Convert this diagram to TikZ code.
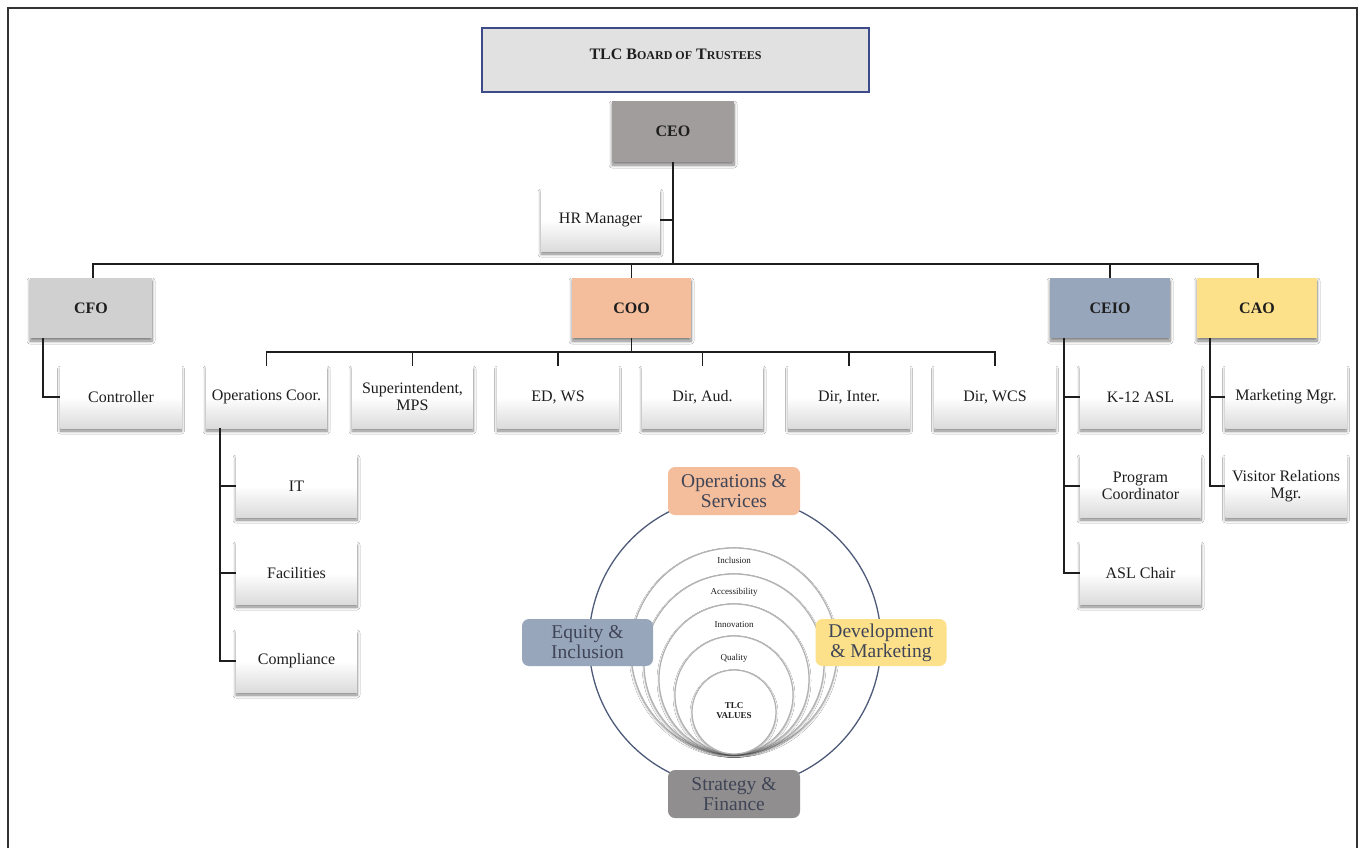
\documentclass[tikz,border=0pt]{standalone}
\usepackage{fontspec}
\setmainfont{Liberation Serif}
\usetikzlibrary{shadows,shadows.blur}
\definecolor{boardfill}{HTML}{E1E1E1}
\definecolor{boardline}{HTML}{3D4B8A}
\definecolor{ceofill}{HTML}{A19D9C}
\definecolor{cfofill}{HTML}{D0D0D0}
\definecolor{coofill}{HTML}{F4BD9B}
\definecolor{ceiofill}{HTML}{98A6BC}
\definecolor{caofill}{HTML}{FDE18A}
\definecolor{stratfill}{HTML}{908E8F}
\definecolor{ringcol}{HTML}{4D5A78}
\definecolor{valtext}{HTML}{3F4556}
\definecolor{ink}{HTML}{1E1E1E}
\begin{document}
\begin{tikzpicture}[x=1pt,y=-1pt,
  shad/.style={blur shadow={shadow xshift=0pt, shadow yshift=-3pt, shadow blur radius=3pt, shadow blur steps=8, shadow opacity=50}},
  box/.style={shad, minimum width=121pt, minimum height=62pt, inner sep=2pt, align=center, text=ink,
    font=\fontsize{16}{17}\selectfont},
  wbox/.style={box, top color=white, bottom color=black!14, middle color=white},
  tbox/.style={box, minimum height=60pt, font=\fontsize{16}{17}\selectfont\bfseries},
  conn/.style={draw=ink, line width=1.6pt},
  vlab/.style={rounded corners=7pt, minimum width=132pt, minimum height=48pt, align=center, text=valtext,
    font=\fontsize{19.5}{20}\selectfont, inner sep=1pt},
  vring/.style={fill=white, draw=black!30, line width=1.2pt,
    blur shadow={shadow xshift=0pt, shadow yshift=-1.5pt, shadow blur radius=2pt, shadow blur steps=5, shadow opacity=35}},
  vtxt/.style={text=ink, font=\fontsize{9}{10}\selectfont}
]
\useasboundingbox (0,0) rectangle (1364,848);
\fill[white] (0,0) rectangle (1364,848);
\draw[black!80, line width=2.5pt] (8,848) -- (8,8) -- (1357,8) -- (1357,848);

% top
\node[draw=boardline, fill=boardfill, line width=1.2pt, minimum width=387pt, minimum height=64pt] (board) at (675.5,60) {};
\node[font=\fontsize{16}{17}\selectfont\bfseries, text=ink] (boardtxt) at (675.5,54)
  {TLC B{\fontsize{12}{13}\selectfont OARD OF} T{\fontsize{12}{13}\selectfont RUSTEES}};
\node[tbox, fill=ceofill, minimum width=122pt, minimum height=61pt] (ceo) at (673,131.5) {CEO};
\node[wbox, minimum width=119pt] (hr) at (600.5,220) {HR Manager};

% executives
\node[tbox, fill=cfofill, minimum width=122pt] (cfo) at (91,308) {CFO};
\node[tbox, fill=coofill, minimum width=119pt] (coo) at (631.5,308) {COO};
\node[tbox, fill=ceiofill, minimum width=120pt] (ceio) at (1110,308) {CEIO};
\node[tbox, fill=caofill, minimum width=120pt] (cao) at (1257,308) {CAO};

% third row
\node[wbox] (ctrl) at (121,397) {Controller};
\node[wbox] (opc) at (266.5,397) {Operations Coor.};
\node[wbox] (sup) at (412.5,397) {Superintendent,\\MPS};
\node[wbox] (edws) at (558,397) {ED, WS};
\node[wbox] (aud) at (702.5,397) {Dir, Aud.};
\node[wbox] (inter) at (849,397) {Dir, Inter.};
\node[wbox] (wcs) at (995,397) {Dir, WCS};
\node[wbox] (k12) at (1140.5,397) {K-12 ASL};
\node[wbox] (mkt) at (1286,397) {Marketing Mgr.};

% sub rows
\node[wbox] (it) at (296.5,486) {IT};
\node[wbox] (fac) at (296.5,573) {Facilities};
\node[wbox] (comp) at (296.5,661) {Compliance};
\node[wbox] (prog) at (1140.5,486) {Program\\Coordinator};
\node[wbox] (asl) at (1140.5,573) {ASL Chair};
\node[wbox] (vis) at (1286,486) {Visitor Relations\\Mgr.};

% connectors
\coordinate (bus1) at (0,264);
\coordinate (bus2) at (0,352);
\draw[conn] (ceo.south) -- (ceo.south |- bus1);
\draw[conn] (hr.east) -- (hr.east -| ceo.south);
\draw[conn] ([xshift=2pt]cfo.north) -- ([xshift=2pt]cfo.north |- bus1) -| ([xshift=1pt]cao.north);
\draw[conn] (coo.north) -- (coo.north |- bus1);
\draw[conn] (ceio.north) -- (ceio.north |- bus1);
\draw[conn] ([xshift=-48pt]cfo.south) |- (ctrl.west);
\draw[conn] (coo.south) -- (coo.south |- bus2);
\draw[conn] (opc.north) -- (opc.north |- bus2) -| (wcs.north);
\draw[conn] (sup.north) -- (sup.north |- bus2);
\draw[conn] (edws.north) -- (edws.north |- bus2);
\draw[conn] (aud.north) -- (aud.north |- bus2);
\draw[conn] (inter.north) -- (inter.north |- bus2);
\draw[conn] ([xshift=-46.5pt]opc.south) |- (comp.west);
\draw[conn] (it.west) -- ++(-16,0);
\draw[conn] (fac.west) -- ++(-16,0);
\draw[conn] ([xshift=-46pt]ceio.south) |- (asl.west);
\draw[conn] (k12.west) -- ++(-16,0);
\draw[conn] (prog.west) -- ++(-16,0);
\draw[conn] ([xshift=-47pt]cao.south) |- (vis.west);
\draw[conn] (mkt.west) -- ++(-16,0);

% values diagram
\draw[ringcol, line width=1.3pt] (735,642) circle[radius=146];
\coordinate (tang) at (734,754);
\foreach \r in {103,90,75,59,42}{
  \draw[vring] (734,{754-\r}) circle[radius=\r];
}
\node[vtxt] (v1) at (734,560) {Inclusion};
\node[vtxt] (v2) at (734,592) {Accessibility};
\node[vtxt] (v3) at (734,625) {Innovation};
\node[vtxt] (v4) at (734,658) {Quality};
\node[vtxt, font=\fontsize{9}{10}\selectfont\bfseries, align=center] (v5) at (734,711) {TLC\\VALUES};

\node[vlab, fill=coofill] (opsl) at (734,491) {Operations \&\\Services};
\node[vlab, fill=ceiofill, minimum width=131pt, minimum height=47pt] (eql) at (587.5,642.5) {Equity \&\\Inclusion};
\node[vlab, fill=caofill, minimum width=131pt, minimum height=47pt] (devl) at (881,642.5) {Development\\\& Marketing};
\node[vlab, fill=stratfill] (stratl) at (734,794) {Strategy \&\\Finance};
\end{tikzpicture}
\end{document}
